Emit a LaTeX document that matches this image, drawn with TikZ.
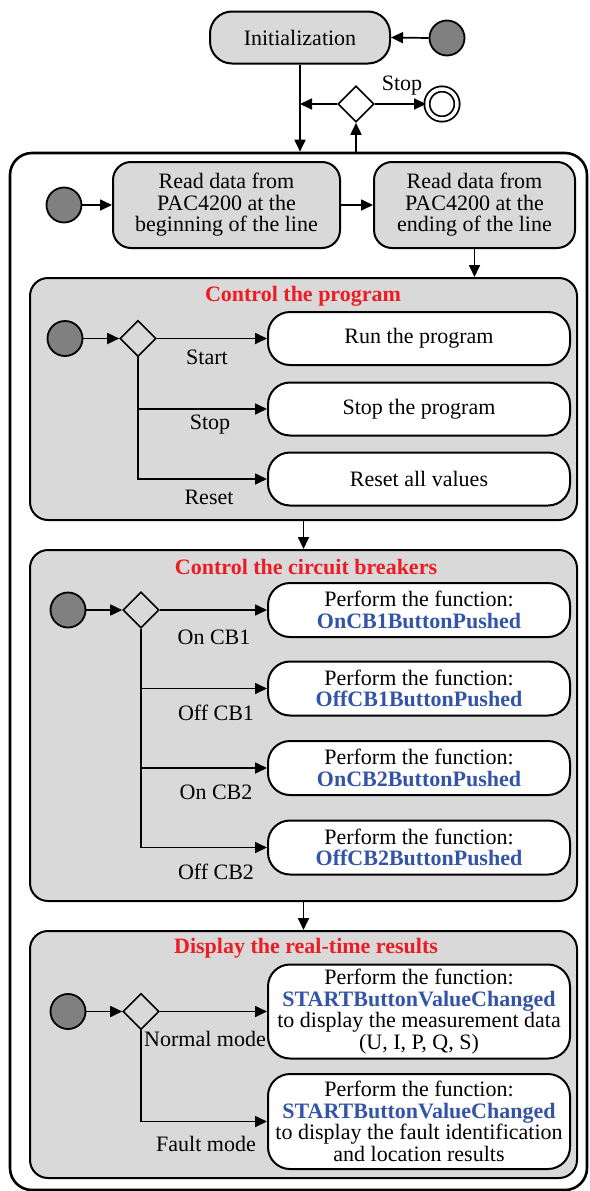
\documentclass[tikz,border=0pt]{standalone}
\usepackage{fontspec}
\setmainfont{Liberation Serif}
\usetikzlibrary{arrows.meta,shapes.geometric}
\definecolor{panelgray}{RGB}{217,217,217}
\definecolor{boxgray}{RGB}{217,217,217}
\definecolor{dotgray}{RGB}{128,128,128}
\definecolor{titlered}{RGB}{237,28,36}
\definecolor{fnblue}{RGB}{52,84,168}
\newcommand\fnname[1]{\textcolor{fnblue}{\textbf{#1}}}

\begin{document}
\begin{tikzpicture}[x=1pt,y=-1pt,
  every node/.style={font=\fontsize{22}{21.5}\selectfont, inner sep=0pt},
  frame/.style={draw, line width=2.6pt, rounded corners=22pt},
  panel/.style={draw, fill=panelgray, line width=2pt, rounded corners=18pt, minimum width=547pt},
  graybox/.style={draw, fill=boxgray, line width=2pt, rounded corners=18pt, align=center},
  actbox/.style={draw, fill=white, line width=2pt, rounded corners=22pt, align=center, minimum width=302pt},
  startdot/.style={circle, draw, fill=dotgray, line width=1.8pt, minimum size=35pt},
  decision/.style={diamond, draw, line width=1.6pt, minimum size=36pt},
  enddot/.style={circle, draw, double=white, double distance=3.5pt, line width=1.8pt, minimum size=30pt},
  paneltitle/.style={font=\fontsize{22}{21.5}\selectfont\bfseries, text=titlered},
  flow/.style={line width=1.7pt, -{Triangle[length=12pt,width=11pt]}}
]
\useasboundingbox (0,0) rectangle (589,1191);

% outer activity frame
\node[frame, minimum width=577pt, minimum height=1037pt] (outer) at (298.5,671.5) {};

% initialization and stop decision
\node[graybox, rounded corners=22pt, minimum width=180pt, minimum height=52pt] (init) at (300,37.5) {Initialization};
\node[startdot] (topdot) at (447,38) {};
\node[decision] (dec0) at (356,104) {};
\node[enddot] (final) at (442,104) {};
\node (stoplbl) at (402,86) {Stop};
\coordinate (merge) at (init.south |- dec0.west);

\draw[flow] (topdot.west) -- (init.east);
\draw[flow] (init.south) -- (init.south |- outer.north);
\draw[flow] (dec0.south |- outer.north) -- (dec0.south);
\draw[flow] (dec0.west) -- (merge);
\draw[flow] (dec0.east) -- (final.west);

% reading data
\node[startdot] (dot0) at (64,205) {};
\node[graybox, minimum width=227pt, minimum height=86pt] (read1) at (226.5,205)
  {Read data from\\PAC4200 at the\\beginning of the line};
\node[graybox, minimum width=201pt, minimum height=86pt] (read2) at (474.5,205)
  {Read data from\\PAC4200 at the\\ending of the line};
\draw[flow] (dot0.east) -- (read1.west);
\draw[flow] (read1.east) -- (read2.west);

% panel 1: program control
\node[panel, minimum height=242pt] (p1) at (303.5,399) {};
\node[paneltitle] (t1) at (303,296) {Control the program};
\node[startdot] (dot1) at (65,338.5) {};
\node[decision] (dec1) at (138,338.5) {};
\node[actbox, minimum height=53pt] (run) at (419,338.5) {Run the program};
\node[actbox, minimum height=53pt] (stopb) at (419,409) {Stop the program};
\node[actbox, minimum height=53pt] (reset) at (419,479) {Reset all values};
\draw[flow] (dot1.east) -- (dec1.west);
\draw[flow] (dec1.east) -- (run.west);
\draw[flow] (dec1.south) |- (stopb.west);
\draw[flow] (dec1.south) |- (reset.west);
\node (g11) at (207,357) {Start};
\node (g12) at (210,425) {Stop};
\node (g13) at (209,497) {Reset};

\draw[flow] (read2.south) -- (read2.south |- p1.north);

% panel 2: circuit breakers
\node[panel, minimum height=351pt] (p2) at (303.5,725.5) {};
\node[paneltitle] (t2) at (306,567) {Control the circuit breakers};
\node[startdot] (dot2) at (68,610) {};
\node[decision] (dec2) at (141,610) {};
\node[actbox, minimum height=54pt] (cb1) at (419,610) {Perform the function:\\\fnname{OnCB1ButtonPushed}};
\node[actbox, minimum height=54pt] (cb2) at (419,688.5) {Perform the function:\\\fnname{OffCB1ButtonPushed}};
\node[actbox, minimum height=54pt] (cb3) at (419,768) {Perform the function:\\\fnname{OnCB2ButtonPushed}};
\node[actbox, minimum height=54pt] (cb4) at (419,847.5) {Perform the function:\\\fnname{OffCB2ButtonPushed}};
\draw[flow] (dot2.east) -- (dec2.west);
\draw[flow] (dec2.east) -- (cb1.west);
\draw[flow] (dec2.south) |- (cb2.west);
\draw[flow] (dec2.south) |- (cb3.west);
\draw[flow] (dec2.south) |- (cb4.west);
\node (g21) at (214,637) {On CB1};
\node (g22) at (216,713) {Off CB1};
\node (g23) at (216,792) {On CB2};
\node (g24) at (216,872) {Off CB2};

\draw[flow] (p1.south) -- (p2.north);

% panel 3: result display
\node[panel, minimum height=247pt] (p3) at (303.5,1054.5) {};
\node[paneltitle] (t3) at (306,948) {Display the real-time results};
\node[startdot] (dot3) at (68,1011.5) {};
\node[decision] (dec3) at (141,1011.5) {};
\node[actbox, minimum height=94pt] (disp1) at (419,1011.5)
  {Perform the function:\\\fnname{STARTButtonValueChanged}\\to display the measurement data\\(U, I, P, Q, S)};
\node[actbox, minimum height=95pt] (disp2) at (419,1121.5)
  {Perform the function:\\\fnname{STARTButtonValueChanged}\\to display the fault identification\\and location results};
\draw[flow] (dot3.east) -- (dec3.west);
\draw[flow] (dec3.east) -- (disp1.west);
\draw[flow] (dec3.south) |- (disp2.west);
\node (g31) at (205,1039) {Normal mode};
\node (g32) at (206,1144) {Fault mode};

\draw[flow] (p2.south) -- (p3.north);
\end{tikzpicture}
\end{document}
